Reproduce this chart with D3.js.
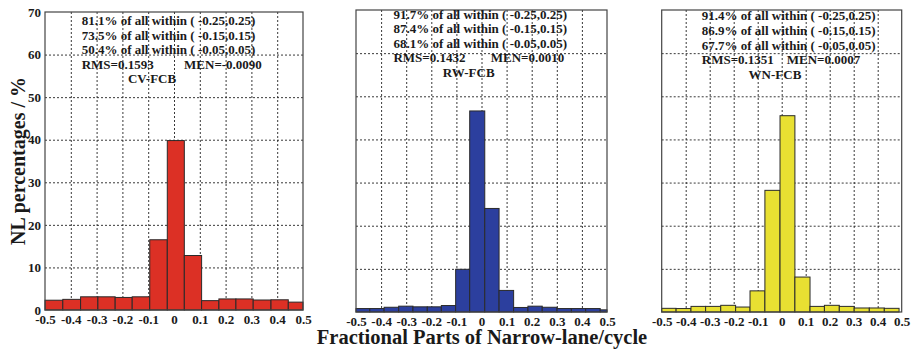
<!DOCTYPE html>
<html lang="en">
<head>
<meta charset="utf-8">
<title>NL fractional parts</title>
<style>
  body { margin: 0; background: #fff; }
  svg text { font-family: "Liberation Serif", "Times New Roman", serif; font-weight: bold; fill: #1a1a1a; }
</style>
</head>
<body>
<script src="https://cdn.jsdelivr.net/npm/d3@7"></script>
<script>
// tick values and labels
const xTicks = [-0.5, -0.4, -0.3, -0.2, -0.1, 0, 0.1, 0.2, 0.3, 0.4, 0.5];
const xTickLabels = ["-0.5", "-0.4", "-0.3", "-0.2", "-0.1", "0", "0.1", "0.2", "0.3", "0.4", "0.5"];
const yTicks = [0, 10, 20, 30, 40, 50, 60, 70];

// CV-FCB histogram (bin edges, percentages)
const cvEdges = [-0.5, -0.431, -0.362, -0.295, -0.228, -0.162, -0.094, -0.026, 0.040, 0.107, 0.174, 0.240, 0.307, 0.376, 0.443, 0.5];
const cvValues = [2.3, 2.5, 3.1, 3.1, 2.95, 3.1, 16.5, 39.8, 12.8, 2.2, 2.6, 2.6, 2.35, 2.4, 1.85];
const cvLines = ["81.1% of all within ( -0.25,0.25)", "73.5% of all within ( -0.15,0.15)", "50.4% of all within ( -0.05,0.05)"];
const cvRms = "RMS=0.1593", cvMen = "MEN=-0.0090";

// RW-FCB histogram
const rwEdges = [-0.5, -0.445, -0.388, -0.330, -0.273, -0.216, -0.160, -0.103, -0.047, 0.013, 0.070, 0.128, 0.185, 0.242, 0.301, 0.358, 0.415, 0.473, 0.5];
const rwValues = [0.8, 0.8, 1.1, 1.35, 1.2, 1.2, 1.5, 9.9, 46.6, 24.0, 5.0, 1.05, 1.35, 1.1, 0.8, 0.8, 0.8, 0.5];
const rwLines = ["91.7% of all within ( -0.25,0.25)", "87.4% of all within ( -0.15,0.15)", "68.1% of all within ( -0.05,0.05)"];
const rwRms = "RMS=0.1432", rwMen = "MEN=0.0010";

// WN-FCB histogram
const wnEdges = [-0.5, -0.440, -0.378, -0.317, -0.254, -0.192, -0.132, -0.070, -0.007, 0.055, 0.118, 0.178, 0.240, 0.302, 0.365, 0.4275, 0.489];
const wnValues = [0.85, 0.8, 1.3, 1.3, 1.55, 1.15, 4.9, 28.2, 45.5, 8.1, 1.3, 1.55, 1.3, 0.93, 0.93, 0.85];
const wnLines = ["91.4% of all within ( -0.25,0.25)", "86.9% of all within ( -0.15,0.15)", "67.7% of all within ( -0.05,0.05)"];
const wnRms = "RMS=0.1351", wnMen = "MEN=0.0007";

const panels = [
  {name: "CV-FCB", edges: cvEdges, values: cvValues, lines: cvLines, rms: cvRms, men: cvMen,
   color: "#dc3025", left: 45, right: 303, top: 12, bottom: 310, textTop: 25,
   textX: -0.358, menX: 0.039, nameX: -0.085, yLabels: true},
  {name: "RW-FCB", edges: rwEdges, values: rwValues, lines: rwLines, rms: rwRms, men: rwMen,
   color: "#2c3f9e", left: 356, right: 607, top: 10, bottom: 312, textTop: 18.5,
   textX: -0.351, menX: 0.037, nameX: -0.051, yLabels: false},
  {name: "WN-FCB", edges: wnEdges, values: wnValues, lines: wnLines, rms: wnRms, men: wnMen,
   color: "#e8e032", left: 661.7, right: 901.7, top: 10, bottom: 312, textTop: 20.3,
   textX: -0.333, menX: 0.021, nameX: -0.028, yLabels: false}
];

const width = 912, height = 353;
const svg = d3.select("body").append("svg")
    .attr("width", width)
    .attr("height", height)
    .attr("viewBox", [0, 0, width, height]);

svg.append("rect").attr("width", width).attr("height", height).attr("fill", "#fff");

panels.forEach(p => {
  const x = d3.scaleLinear([-0.5, 0.5], [p.left, p.right]);
  const y = d3.scaleLinear([0, 70], [p.bottom, p.top]);
  const g = svg.append("g");

  // dotted grid
  g.append("g")
      .attr("transform", `translate(0,${p.bottom})`)
      .call(d3.axisBottom(x).tickValues(xTicks.slice(1, -1)).tickSize(-(p.bottom - p.top)).tickFormat(""))
      .call(a => a.select(".domain").remove());
  g.append("g")
      .attr("transform", `translate(${p.left},0)`)
      .call(d3.axisLeft(y).tickValues(yTicks.slice(1, -1)).tickSize(-(p.right - p.left)).tickFormat(""))
      .call(a => a.select(".domain").remove());
  g.selectAll(".tick line")
      .attr("stroke", "#222")
      .attr("stroke-width", 0.9)
      .attr("stroke-dasharray", "2,2");

  // histogram bars
  const bins = p.values.map((v, i) => ({x0: p.edges[i], x1: p.edges[i + 1], v}));
  g.append("g")
      .selectAll("rect")
      .data(bins)
      .join("rect")
      .attr("x", d => x(d.x0))
      .attr("y", d => y(d.v))
      .attr("width", d => x(d.x1) - x(d.x0))
      .attr("height", d => y(0) - y(d.v))
      .attr("fill", p.color)
      .attr("stroke", "#2a2a2a")
      .attr("stroke-width", 1);

  // frame
  g.append("rect")
      .attr("x", p.left).attr("y", p.top)
      .attr("width", p.right - p.left).attr("height", p.bottom - p.top)
      .attr("fill", "none")
      .attr("stroke", "#444")
      .attr("stroke-width", 1.2);

  // x tick labels
  g.append("g")
      .attr("transform", `translate(0,${p.bottom})`)
      .call(d3.axisBottom(x).tickValues(xTicks).tickSize(0).tickPadding(5)
        .tickFormat((d, i) => xTickLabels[i]))
      .call(a => a.select(".domain").remove())
      .call(a => a.selectAll("text")
        .attr("font-size", 13)
        .attr("font-family", null)
        .attr("fill", null));

  // y tick labels (first panel only)
  if (p.yLabels) {
    g.append("g")
        .attr("transform", `translate(${p.left},0)`)
        .call(d3.axisLeft(y).tickValues(yTicks).tickSize(0).tickPadding(4))
        .call(a => a.select(".domain").remove())
        .call(a => a.selectAll("text")
          .attr("font-size", 13)
          .attr("font-family", null)
          .attr("fill", null));
  }

  // statistics text
  const lh = 14.6;
  const t = g.append("g").attr("font-size", 13);
  p.lines.forEach((s, i) => {
    t.append("text").attr("x", x(p.textX)).attr("y", p.textTop + i * lh).text(s);
  });
  t.append("text").attr("x", x(p.textX)).attr("y", p.textTop + 3 * lh).text(p.rms);
  t.append("text").attr("x", x(p.menX)).attr("y", p.textTop + 3 * lh).text(p.men);
  t.append("text").attr("x", x(p.nameX)).attr("y", p.textTop + 4 * lh)
      .attr("text-anchor", "middle").text(p.name);
});

// axis titles
svg.append("text")
    .attr("transform", "translate(25,161) rotate(-90)")
    .attr("text-anchor", "middle")
    .attr("font-size", 20)
    .text("NL percentages / %");

svg.append("text")
    .attr("x", 482)
    .attr("y", 344)
    .attr("text-anchor", "middle")
    .attr("font-size", 20.5)
    .text("Fractional Parts of Narrow-lane/cycle");
</script>
</body>
</html>
